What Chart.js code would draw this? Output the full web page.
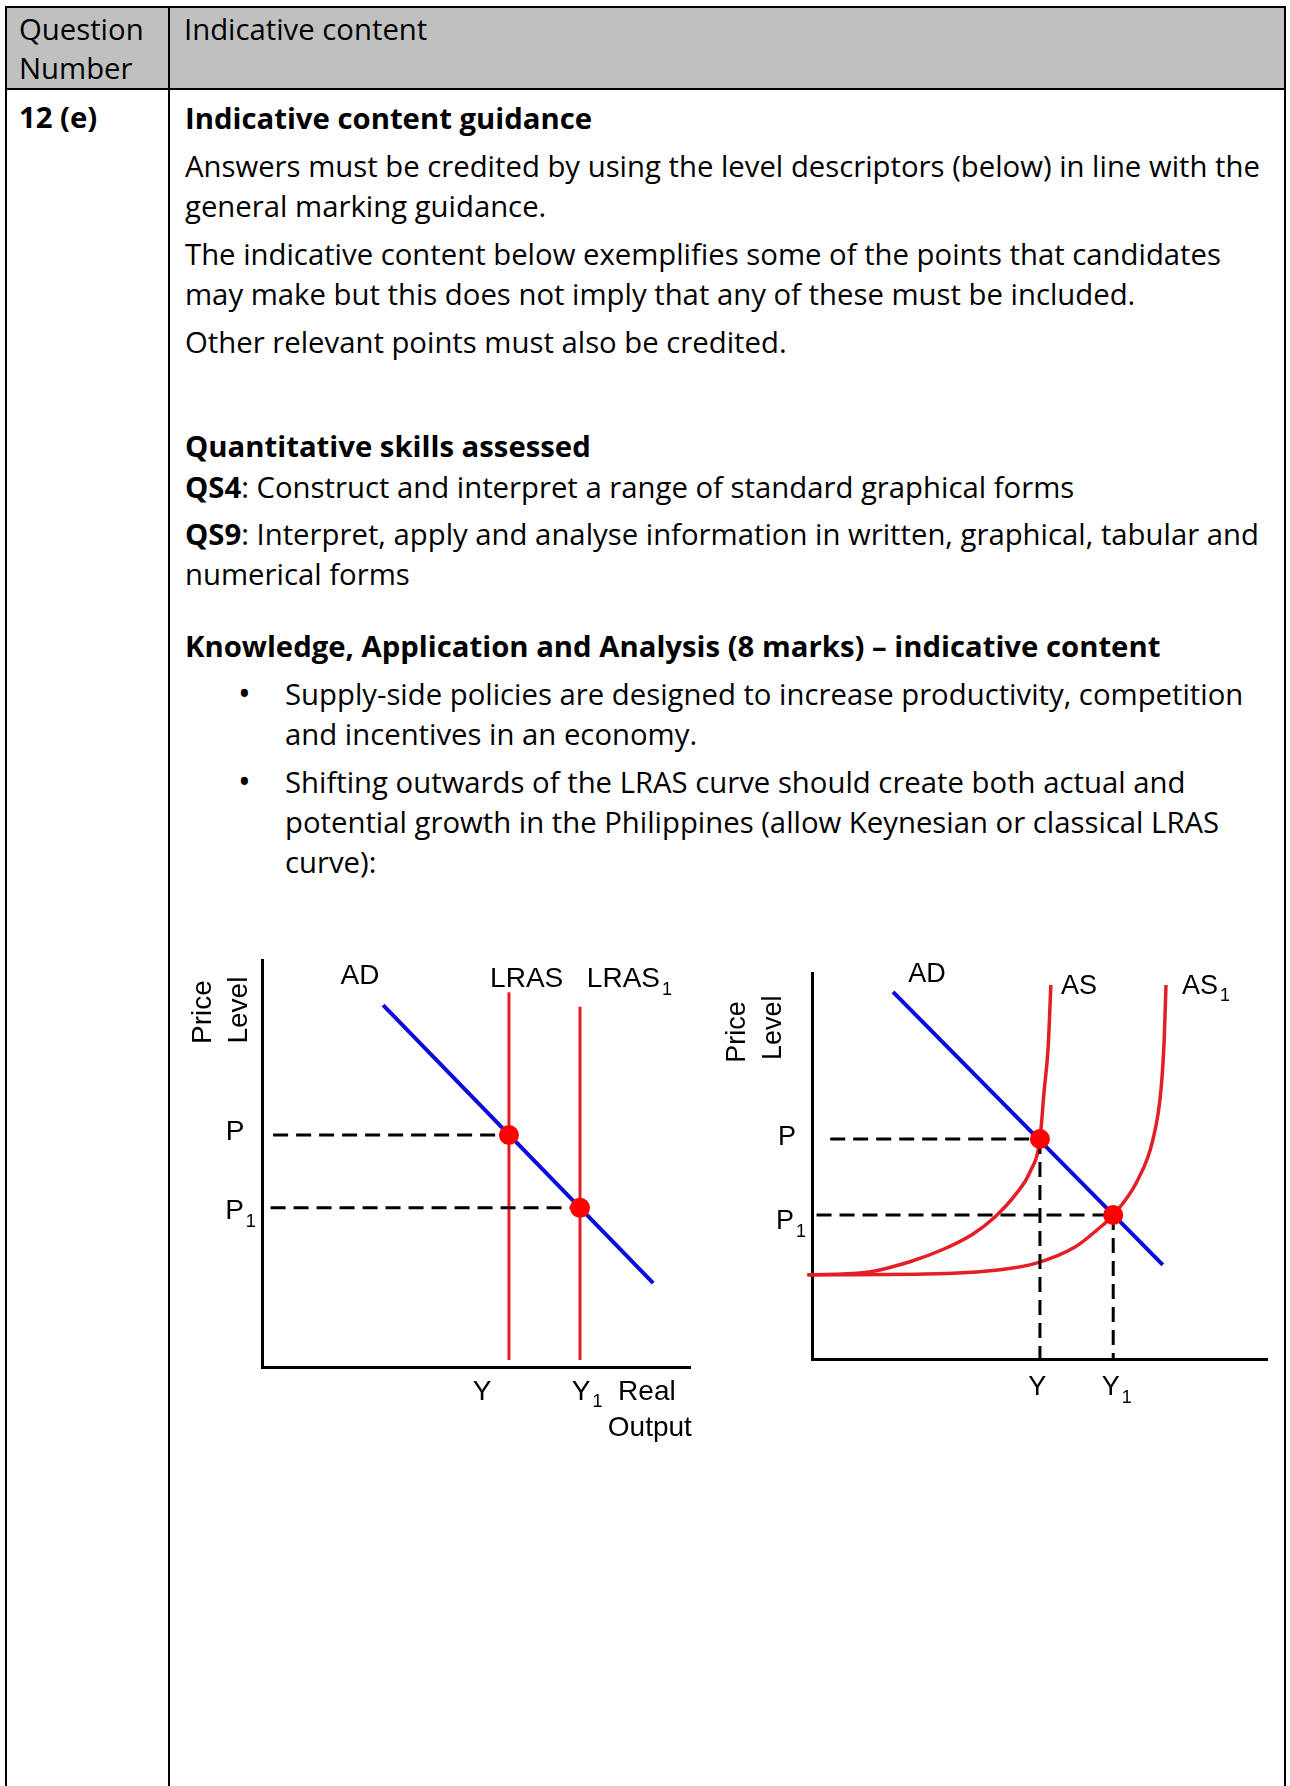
<!DOCTYPE html>
<html>
<head>
<meta charset="utf-8">
<script src="https://cdn.jsdelivr.net/npm/chart.js@4.4.1/dist/chart.umd.min.js"></script>
<style>
body { margin:0; width:1290px; height:1786px; background:#fff; overflow:hidden; position:relative;
       font-family:'Open Sans', sans-serif; font-size:29.3px; color:#000; }
.ln { position:absolute; line-height:40px; white-space:nowrap; }
.b { font-weight:bold; }
.rule { position:absolute; background:#000; }
canvas { position:absolute; }
</style>
</head>
<body>
<div style="position:absolute;left:7px;top:8px;width:1277px;height:80px;background:#c0c0c0"></div>
<div class="rule" style="left:5px;top:6px;width:1281px;height:2px"></div>
<div class="rule" style="left:5px;top:88px;width:1281px;height:2px"></div>
<div class="rule" style="left:5px;top:6px;width:2px;height:1780px"></div>
<div class="rule" style="left:168px;top:6px;width:2px;height:1780px"></div>
<div class="rule" style="left:1284px;top:6px;width:2px;height:1780px"></div>

<div class="ln" style="left:19px;top:9px">Question</div>
<div class="ln" style="left:19px;top:48px">Number</div>
<div class="ln" style="left:184px;top:9px">Indicative content</div>

<div class="ln b" style="left:19px;top:97px">12 (e)</div>
<div class="ln b" style="left:185px;top:98px">Indicative content guidance</div>
<div class="ln" style="left:185px;top:146px">Answers must be credited by using the level descriptors (below) in line with the<br>general marking guidance.</div>
<div class="ln" style="left:185px;top:234px">The indicative content below exemplifies some of the points that candidates<br>may make but this does not imply that any of these must be included.</div>
<div class="ln" style="left:185px;top:322px">Other relevant points must also be credited.</div>
<div class="ln b" style="left:185px;top:426px">Quantitative skills assessed</div>
<div class="ln" style="left:185px;top:467px"><b>QS4</b>: Construct and interpret a range of standard graphical forms</div>
<div class="ln" style="left:185px;top:514px"><b>QS9</b>: Interpret, apply and analyse information in written, graphical, tabular and<br>numerical forms</div>
<div class="ln b" style="left:185px;top:626px">Knowledge, Application and Analysis (8 marks) – indicative content</div>
<div class="ln" style="left:238px;top:673px;font-size:34px">•</div>
<div class="ln" style="left:285px;top:674px">Supply-side policies are designed to increase productivity, competition<br>and incentives in an economy.</div>
<div class="ln" style="left:238px;top:761px;font-size:34px">•</div>
<div class="ln" style="left:285px;top:762px">Shifting outwards of the LRAS curve should create both actual and<br>potential growth in the Philippines (allow Keynesian or classical LRAS<br>curve):</div>

<canvas id="lrasChart" width="535" height="530" style="left:175px;top:930px"></canvas>
<canvas id="asChart" width="580" height="520" style="left:700px;top:930px"></canvas>

<script>
// left diagram: AD with vertical LRAS / LRAS1
var adLeftX = [2.83, 9.14];
var adLeftY = [8.89, 2.06];
var lrasX = [5.77, 5.77];
var lrasY = [0.17, 9.21];
var lras1X = [7.43, 7.43];
var lras1Y = [0.17, 8.85];
var eqLeftX = [5.77, 7.43];      // P, P1
var eqLeftY = [5.70, 3.91];
var guideStartLeft = [0.26, 0.20];

// right diagram: AD with Keynesian AS / AS1
var adRightX = [1.78, 7.71];
var adRightY = [9.51, 2.44];
var asX = [-0.1, 1.16, 2.15, 2.90, 3.54, 4.02, 4.48, 4.79, 5.01, 5.10, 5.19, 5.25];
var asY = [2.18, 2.24, 2.52, 2.85, 3.24, 3.68, 4.27, 4.84, 5.70, 6.92, 8.08, 9.69];
var as1X = [-0.1, 2.48, 4.13, 4.95, 5.78, 6.26, 6.62, 7.16, 7.49, 7.67, 7.74, 7.78];
var as1Y = [2.18, 2.20, 2.31, 2.49, 2.90, 3.34, 3.73, 4.64, 5.67, 6.97, 8.26, 9.69];
var eqRightX = [5.01, 6.62];     // P, P1
var eqRightY = [5.70, 3.73];
var guideStartRight = [0.40, 0.10];

var priceTicks = ['P', 'P1'];
var outputTicks = ['Y', 'Y1'];

var RED = '#e31e24', DOT = '#ff0000', BLUE = '#0b0bde';
var FONT = '"Liberation Sans", Arial, sans-serif';

function pts(xs, ys) {
    return xs.map(function (x, i) { return {x: x, y: ys[i]}; });
}

function splitSub(t) {
    // 'P1' -> main 'P', sub '1'
    var m = t.match(/^(.*?)(\d)$/);
    return m ? {text: m[1], sub: m[2]} : {text: t, sub: ''};
}

var textLabels = {
    id: 'textLabels',
    afterDatasetsDraw: function (chart, args, opts) {
        var ctx = chart.ctx, sx = chart.scales.x, sy = chart.scales.y;
        var size = opts.size;
        ctx.save();
        ctx.fillStyle = '#000';
        ctx.textBaseline = 'middle';
        ctx.textAlign = 'left';
        opts.items.forEach(function (it) {
            var parts = splitSub(it.text);
            ctx.save();
            ctx.translate(sx.getPixelForValue(it.x), sy.getPixelForValue(it.y));
            if (it.rotate) ctx.rotate(-Math.PI / 2);
            ctx.font = size + 'px ' + FONT;
            var w = ctx.measureText(parts.text).width;
            var subSize = Math.round(size * 0.65);
            var subW = 0;
            if (parts.sub) {
                ctx.font = subSize + 'px ' + FONT;
                subW = ctx.measureText(parts.sub).width + 2;
            }
            var left = it.align === 'left' ? 0 : -(w + subW) / 2;
            ctx.font = size + 'px ' + FONT;
            ctx.fillText(parts.text, left, 0);
            if (parts.sub) {
                ctx.font = subSize + 'px ' + FONT;
                ctx.fillText(parts.sub, left + w + 2, size * 0.38);
            }
            ctx.restore();
        });
        ctx.restore();
    }
};

function axis(pos) {
    return {
        type: 'linear', position: pos, min: 0, max: 10,
        grid: {display: false, drawTicks: false},
        border: {display: true, color: '#000', width: 3},
        ticks: {display: false}
    };
}

function line(data, color, width, extra) {
    var ds = {
        data: data, showLine: true, borderColor: color, borderWidth: width,
        pointRadius: 0, clip: false, order: 2
    };
    for (var k in extra) ds[k] = extra[k];
    return ds;
}

function dashed(data) {
    return line(data, '#000', 3, {borderDash: [15, 8], order: 1});
}

function dots(data) {
    return {
        data: data, showLine: false, pointRadius: 10, pointBackgroundColor: DOT,
        pointBorderWidth: 0, clip: false, order: 0
    };
}

function baseOptions(padding, size, items) {
    return {
        responsive: false,
        animation: false,
        layout: {padding: padding},
        scales: {x: axis('bottom'), y: axis('left')},
        plugins: {
            legend: {display: false},
            tooltip: {enabled: false},
            textLabels: {size: size, items: items}
        }
    };
}

// ---------- left chart ----------
var ctxL = document.getElementById('lrasChart');
if (ctxL) {
    var leftSets = [
        dots(pts(eqLeftX, eqLeftY)),
        line(pts(adLeftX, adLeftY), BLUE, 4, {order: 1}),
        line(pts(lrasX, lrasY), RED, 3),
        line(pts(lras1X, lras1Y), RED, 3)
    ];
    eqLeftX.forEach(function (x, i) {
        leftSets.push(dashed([{x: guideStartLeft[i], y: eqLeftY[i]}, {x: x, y: eqLeftY[i]}]));
    });
    new Chart(ctxL, {
        type: 'scatter',
        data: {datasets: leftSets},
        options: baseOptions({left: 87, top: 30, right: 20, bottom: 93}, 28, [
            {text: 'Price', x: -1.38, y: 8.72, rotate: true},
            {text: 'Level', x: -0.54, y: 8.77, rotate: true},
            {text: 'AD', x: 2.29, y: 9.61},
            {text: 'LRAS', x: 5.33, y: 9.53, align: 'left'},
            {text: 'LRAS1', x: 7.59, y: 9.53, align: 'left'},
            {text: priceTicks[0], x: -0.63, y: 5.77},
            {text: priceTicks[1], x: -0.86, y: 3.83, align: 'left'},
            {text: outputTicks[0], x: 5.14, y: -0.61},
            {text: outputTicks[1], x: 7.24, y: -0.61, align: 'left'},
            {text: 'Real', x: 8.32, y: -0.61, align: 'left'},
            {text: 'Output', x: 8.08, y: -1.50, align: 'left'}
        ]),
        plugins: [textLabels]
    });
}

// ---------- right chart ----------
var ctxR = document.getElementById('asChart');
if (ctxR) {
    var rightSets = [
        dots(pts(eqRightX, eqRightY)),
        line(pts(adRightX, adRightY), BLUE, 4, {order: 1}),
        line(pts(asX, asY), RED, 3.5, {cubicInterpolationMode: 'monotone'}),
        line(pts(as1X, as1Y), RED, 3.5, {cubicInterpolationMode: 'monotone'})
    ];
    eqRightX.forEach(function (x, i) {
        rightSets.push(dashed([{x: guideStartRight[i], y: eqRightY[i]}, {x: x, y: eqRightY[i]}]));
        rightSets.push(dashed([{x: x, y: eqRightY[i]}, {x: x, y: 0}]));
    });
    new Chart(ctxR, {
        type: 'scatter',
        data: {datasets: rightSets},
        options: baseOptions({left: 112, top: 43, right: 13, bottom: 91}, 27, [
            {text: 'Price', x: -1.63, y: 8.47, rotate: true},
            {text: 'Level', x: -0.84, y: 8.58, rotate: true},
            {text: 'AD', x: 2.53, y: 9.95},
            {text: 'AS', x: 5.47, y: 9.66, align: 'left'},
            {text: 'AS1', x: 8.13, y: 9.66, align: 'left'},
            {text: priceTicks[0], x: -0.55, y: 5.73},
            {text: priceTicks[1], x: -0.79, y: 3.55, align: 'left'},
            {text: outputTicks[0], x: 4.95, y: -0.75},
            {text: outputTicks[1], x: 6.37, y: -0.75, align: 'left'}
        ]),
        plugins: [textLabels]
    });
}
</script>
</body>
</html>
